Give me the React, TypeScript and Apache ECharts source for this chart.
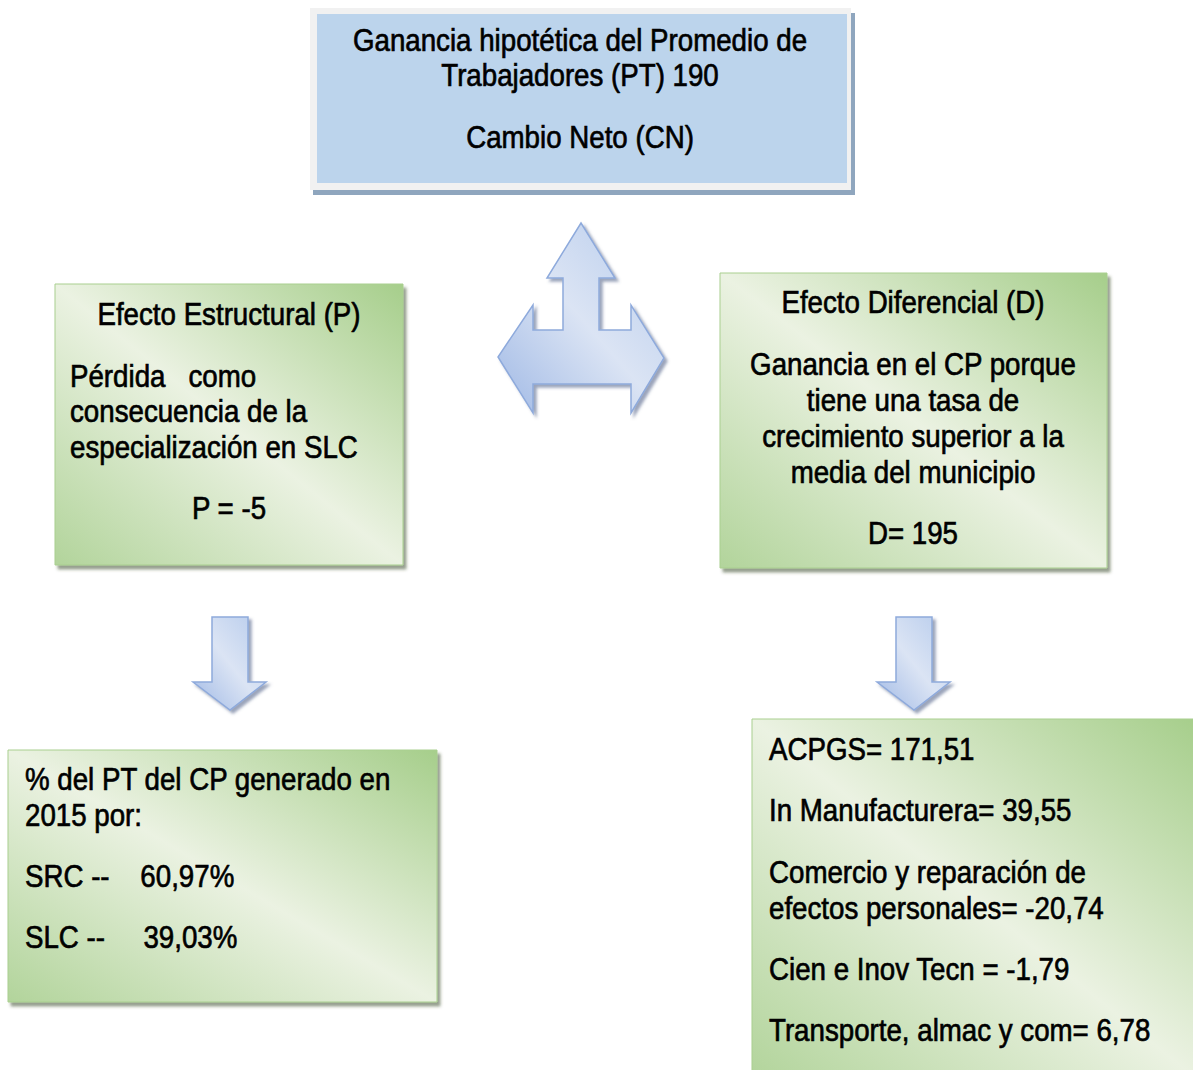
import React, { useEffect, useRef } from "react";
import * as echarts from "echarts";

const topLines = ["Ganancia hipotética del Promedio de", "Trabajadores (PT) 190", "Cambio Neto (CN)"];
const topLineY = [40, 75, 137];

const leftTitle = "Efecto Estructural (P)";
const leftBody = ["Pérdida   como", "consecuencia de la", "especialización en SLC"];
const leftBodyY = [376, 411, 447];
const leftValue = "P = -5";

const rightTitle = "Efecto Diferencial (D)";
const rightBody = ["Ganancia en el CP porque", "tiene una tasa de", "crecimiento superior a la", "media del municipio"];
const rightBodyY = [364, 400, 436, 472];
const rightValue = "D= 195";

const bottomLeftLines = ["% del PT del CP generado en", "2015 por:", "SRC --    60,97%", "SLC --     39,03%"];
const bottomLeftY = [779, 815, 876, 937];

const bottomRightLines = [
  "ACPGS= 171,51",
  "In Manufacturera= 39,55",
  "Comercio y reparación de",
  "efectos personales= -20,74",
  "Cien e Inov Tecn = -1,79",
  "Transporte, almac y com= 6,78",
];
const bottomRightY = [749, 810, 872, 908, 969, 1030];

const FONT = "Liberation Sans, Arial, sans-serif";
const FS = 27.7;
const SY = 1.14;

function txt(text: string, x: number, y: number, align: string = "left") {
  return {
    type: "text",
    x,
    y,
    scaleY: SY,
    z: 20,
    style: {
      text,
      fontSize: FS,
      fontFamily: FONT,
      fill: "#000",
      stroke: "#000",
      lineWidth: 0.6,
      textAlign: align,
      textVerticalAlign: "middle",
    },
  };
}

const greenFill = {
  type: "linear",
  x: 1,
  y: 0,
  x2: 0,
  y2: 1,
  colorStops: [
    { offset: 0, color: "#a6ce8b" },
    { offset: 0.5, color: "#ebf2e2" },
    { offset: 1, color: "#b2d49b" },
  ],
};

const arrowFill = {
  type: "linear",
  x: 0,
  y: 1,
  x2: 1,
  y2: 0,
  colorStops: [
    { offset: 0, color: "#a0b9e5" },
    { offset: 0.5, color: "#dbe4f4" },
    { offset: 1, color: "#b6cbec" },
  ],
};

function greenBox(x: number, y: number, w: number, h: number) {
  return {
    type: "rect",
    z: 5,
    shape: { x, y, width: w, height: h },
    style: {
      fill: greenFill,
      stroke: "#a9cf8f",
      lineWidth: 1,
      shadowBlur: 3,
      shadowOffsetX: 3,
      shadowOffsetY: 4,
      shadowColor: "rgba(60,80,50,0.55)",
    },
  };
}

function downArrow(cx: number, top: number) {
  const pts = [
    [cx - 18, top],
    [cx + 18, top],
    [cx + 18, top + 65],
    [cx + 36, top + 65],
    [cx, top + 93],
    [cx - 37, top + 65],
    [cx - 18, top + 65],
  ];
  return {
    type: "polygon",
    z: 6,
    shape: { points: pts },
    style: {
      fill: arrowFill,
      stroke: "#8eaadc",
      lineWidth: 1.5,
      shadowBlur: 3,
      shadowOffsetX: 3,
      shadowOffsetY: 3,
      shadowColor: "rgba(70,90,130,0.55)",
    },
  };
}

const triArrowPts = [
  [581, 223],
  [615, 278],
  [599, 278],
  [599, 330],
  [631, 330],
  [631, 305],
  [664, 358],
  [631, 413],
  [631, 384],
  [533, 384],
  [533, 413],
  [498, 357],
  [533, 305],
  [533, 330],
  [563, 330],
  [563, 278],
  [547, 278],
];

export default function App() {
  const ref = useRef<HTMLDivElement>(null);
  useEffect(() => {
    document.body.style.margin = "0";
    document.body.style.overflow = "hidden";
    const chart = echarts.init(ref.current!, null, { renderer: "svg" });
    const elements: any[] = [];

    // Top box
    elements.push({
      type: "rect",
      z: 3,
      shape: { x: 313, y: 13, width: 542, height: 182 },
      style: { fill: "#8fa6be" },
    });
    elements.push({
      type: "rect",
      z: 4,
      shape: { x: 310, y: 8, width: 541, height: 182 },
      style: { fill: "#f1f1f1" },
    });
    elements.push({
      type: "rect",
      z: 5,
      shape: { x: 317, y: 14, width: 530, height: 169 },
      style: { fill: "#bcd4ec" },
    });
    topLines.forEach((t, i) => elements.push(txt(t, 580, topLineY[i], "center")));

    // Three-way arrow
    elements.push({
      type: "polygon",
      z: 6,
      shape: { points: triArrowPts },
      style: {
        fill: arrowFill,
        stroke: "#8eaadc",
        lineWidth: 1.5,
        shadowBlur: 3,
        shadowOffsetX: 3,
        shadowOffsetY: 3,
        shadowColor: "rgba(70,90,130,0.55)",
      },
    });

    // Left box
    elements.push(greenBox(55, 284, 348, 281));
    elements.push(txt(leftTitle, 229, 314, "center"));
    leftBody.forEach((t, i) => elements.push(txt(t, 70, leftBodyY[i], "left")));
    elements.push(txt(leftValue, 229, 508, "center"));

    // Right box
    elements.push(greenBox(720, 273, 387, 295));
    elements.push(txt(rightTitle, 913, 302, "center"));
    rightBody.forEach((t, i) => elements.push(txt(t, 913, rightBodyY[i], "center")));
    elements.push(txt(rightValue, 913, 533, "center"));

    // Down arrows
    elements.push(downArrow(230, 617));
    elements.push(downArrow(914, 617));

    // Bottom left box
    elements.push(greenBox(8, 750, 429, 252));
    bottomLeftLines.forEach((t, i) => elements.push(txt(t, 25, bottomLeftY[i], "left")));

    // Bottom right box
    elements.push(greenBox(752, 719, 445, 360));
    bottomRightLines.forEach((t, i) => elements.push(txt(t, 769, bottomRightY[i], "left")));

    chart.setOption({
      animation: false,
      backgroundColor: "#ffffff",
      graphic: { elements },
    });
    return () => chart.dispose();
  }, []);
  return <div ref={ref} style={{ width: 1193, height: 1070 }} />;
}
